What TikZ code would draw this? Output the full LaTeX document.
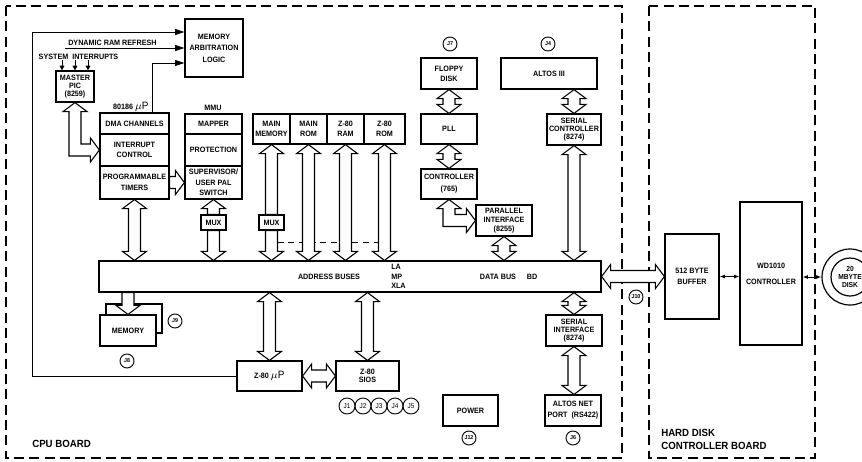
\documentclass[tikz,border=0pt]{standalone}
\usepackage{fontspec}
\setmainfont{Liberation Sans}[FakeStretch=0.93]
\usetikzlibrary{calc,arrows.meta}
\newcommand\ArW{6}
\newcommand\ArH{12}
\newcommand\ArL{9}
% box from corner to corner (pixel coordinates)
\newcommand\BX[7][]{\node[box,#1,minimum width={(#5-#3)*0.75pt},minimum height={(#6-#4)*0.75pt}] (#2) at ({(#3+#5)/2},{(#4+#6)/2}) {#7};}
% vertical hollow double arrow
\newcommand\ArrVV[2]{\coordinate (aT) at (#1); \coordinate (aB) at (#1 |- #2);
 \draw[hol] (aT) -- ($(aT)+(\ArH,\ArL)$) -- ($(aT)+(\ArW,\ArL)$) -- ($(aB)+(\ArW,-\ArL)$) -- ($(aB)+(\ArH,-\ArL)$) -- (aB) -- ($(aB)+(-\ArH,-\ArL)$) -- ($(aB)+(-\ArW,-\ArL)$) -- ($(aT)+(-\ArW,\ArL)$) -- ($(aT)+(-\ArH,\ArL)$) -- cycle;}
% vertical hollow arrow, head at lower end
\newcommand\ArrVD[2]{\coordinate (aT) at (#1); \coordinate (aB) at (#1 |- #2);
 \draw[hol] ($(aT)+(-\ArW,0)$) -- ($(aT)+(\ArW,0)$) -- ($(aB)+(\ArW,-\ArL)$) -- ($(aB)+(\ArH,-\ArL)$) -- (aB) -- ($(aB)+(-\ArH,-\ArL)$) -- ($(aB)+(-\ArW,-\ArL)$) -- cycle;}
% vertical hollow arrow, head at upper end
\newcommand\ArrVU[2]{\coordinate (aT) at (#1); \coordinate (aB) at (#1 |- #2);
 \draw[hol] (aT) -- ($(aT)+(\ArH,\ArL)$) -- ($(aT)+(\ArW,\ArL)$) -- ($(aB)+(\ArW,0)$) -- ($(aB)+(-\ArW,0)$) -- ($(aT)+(-\ArW,\ArL)$) -- ($(aT)+(-\ArH,\ArL)$) -- cycle;}
% horizontal hollow double arrow
\newcommand\ArrHH[2]{\coordinate (aL) at (#1); \coordinate (aR) at (#2 |- #1);
 \draw[hol] (aL) -- ($(aL)+(\ArL,-\ArH)$) -- ($(aL)+(\ArL,-\ArW)$) -- ($(aR)+(-\ArL,-\ArW)$) -- ($(aR)+(-\ArL,-\ArH)$) -- (aR) -- ($(aR)+(-\ArL,\ArH)$) -- ($(aR)+(-\ArL,\ArW)$) -- ($(aL)+(\ArL,\ArW)$) -- ($(aL)+(\ArL,\ArH)$) -- cycle;}
% horizontal hollow arrow, head at right end
\newcommand\ArrHR[2]{\coordinate (aL) at (#1); \coordinate (aR) at (#2 |- #1);
 \draw[hol] ($(aL)+(0,-\ArW)$) -- ($(aR)+(-\ArL,-\ArW)$) -- ($(aR)+(-\ArL,-\ArH)$) -- (aR) -- ($(aR)+(-\ArL,\ArH)$) -- ($(aR)+(-\ArL,\ArW)$) -- ($(aL)+(0,\ArW)$) -- cycle;}
\begin{document}
\begin{tikzpicture}[x=0.75pt,y=-0.75pt,
  every node/.style={font=\fontsize{5.8}{7.5}\selectfont\bfseries},
  box/.style={draw, line width=0.9pt, fill=white, inner sep=0pt, align=center},
  hol/.style={draw, line width=0.8pt, fill=white, line join=miter},
  board/.style={draw, line width=0.9pt, dash pattern=on 7.5pt off 4pt},
  jc/.style={draw, circle, line width=0.7pt, inner sep=0pt, minimum size=10.5pt, font=\fontsize{4.3}{5}\selectfont\bfseries},
  jb/.style={draw, circle, line width=0.7pt, inner sep=0pt, minimum size=12pt, font=\fontsize{5.2}{6}\selectfont},
  sarr/.style={draw, line width=0.75pt, -{Triangle[length=7pt,width=4.5pt]}},
  tarr/.style={draw, line width=0.7pt, -{Triangle[length=3.5pt,width=3.5pt]}},
  tharr/.style={draw, line width=0.7pt, {Latex[length=4pt,width=3pt]}-{Latex[length=4pt,width=3pt]}},
  lsk/.style={font=\fontsize{5.8}{#1}\selectfont\bfseries},
  bigl/.style={font=\fontsize{7.8}{9.4}\selectfont\bfseries, align=left, inner sep=0pt}
]
\useasboundingbox (0,0) rectangle (862,461);
\clip (0,0) rectangle (862,461);
% boards
\draw[board] (6,6) rectangle (622,458);
\draw[board] (649,6) rectangle (815,458);
% boxes
\BX[lsk=8.6]{arb}{185}{19}{243}{77}{MEMORY\\ARBITRATION\\LOGIC}
\BX[lsk=6.2]{pic}{56}{71}{94}{102}{MASTER\\PIC\\(8259)}
\BX{dma}{100}{113}{169}{134}{DMA CHANNELS}
\BX{intr}{100}{134}{169}{166}{INTERRUPT\\CONTROL}
\BX[lsk=8.2]{tim}{100}{166}{169}{199}{PROGRAMMABLE\\TIMERS}
\BX{map}{185}{114}{242}{134}{MAPPER}
\BX{prot}{185}{134}{242}{166}{PROTECTION}
\BX[lsk=7.8]{sup}{185}{166}{242}{199}{SUPERVISOR/\\USER PAL\\SWITCH}
\BX{mux1}{201}{215}{226}{230}{MUX}
\BX{mm}{253}{114}{290}{144}{MAIN\\MEMORY}
\BX{mr}{290}{114}{327}{144}{MAIN\\ROM}
\BX{zr}{327}{114}{364}{144}{Z-80\\RAM}
\BX{zrom}{364}{114}{405}{144}{Z-80\\ROM}
\BX{mux2}{259}{215}{284}{230}{MUX}
\BX{flop}{421}{58}{477}{89}{FLOPPY\\DISK}
\BX{pll}{421}{114}{477}{144}{PLL}
\BX[lsk=9]{ctrl}{421}{169}{477}{199}{CONTROLLER\\(765)}
\BX[lsk=6.8]{par}{476}{205}{532}{236}{PARALLEL\\INTERFACE\\(8255)}
\BX{alt}{501}{58}{597}{89}{ALTOS III}
\BX[lsk=6]{sc}{547}{114}{601}{145}{SERIAL\\CONTROLLER\\(8274)}
\BX{bus}{99}{261}{601}{292}{}
\BX[lsk=6]{si}{546}{315}{602}{346}{SERIAL\\INTERFACE\\(8274)}
\BX[lsk=8.2]{net}{545}{395}{601}{426}{ALTOS NET\\PORT\ \ (RS422)}
\BX{pow}{443}{395}{498}{426}{POWER}
\BX{z80p}{237}{361}{302}{391}{Z-80 {\fontsize{8}{8}\selectfont$\mu\mathrm{P}$}}
\BX[lsk=6]{sio}{336}{361}{399}{391}{Z-80\\SIOS}
\BX{memb}{106}{304}{162}{333}{}
\BX{mem}{100}{315}{156}{346}{MEMORY}
\BX[lsk=8.2]{buf}{665}{234}{719}{319}{512 BYTE\\BUFFER}
\BX[lsk=12]{wd}{740}{202}{802}{345}{WD1010\\CONTROLLER}
% disk
\node[circle, draw, line width=0.9pt, minimum size=42pt] (disko) at (850,277) {};
\node[circle, draw, line width=0.9pt, minimum size=28.5pt, inner sep=0pt, align=center, font=\fontsize{5.4}{6}\selectfont\bfseries] (disk) at (850,277) {20\\MBYTE\\DISK};
% labels
\node (adr) at (329,276.5) {ADDRESS BUSES};
\node[anchor=west, align=left, inner sep=0pt, lsk=7] (lamp) at (391,276.5) {LA\\MP\\XLA};
\node (dbus) at (498,276.5) {DATA BUS};
\node (bd) at (532,276.5) {BD};
\node (l80186) at (131,107) {80186 {\fontsize{8}{8}\selectfont$\mu\mathrm{P}$}};
\node (lmmu) at (213,108) {MMU};
\node (lsi) at (78.5,57) {SYSTEM\ \ INTERRUPTS};
\node[anchor=base west, inner sep=0pt] (ldr) at (68,45.5) {DYNAMIC RAM REFRESH};
\node[bigl, anchor=base west] (cpub) at (32,447) {CPU BOARD};
\node[bigl, anchor=north west] (hdcb) at (661,429) {HARD DISK\\CONTROLLER BOARD};
% connectors
\coordinate (lc) at (32,32);
\draw[sarr] (z80p.west) -| (lc) -- ($(arb.west)+(0,-16)$);
\coordinate (dr) at (65,48);
\draw[sarr] (dr) -- (arb.west);
\draw[sarr] ($(dma.north west)+(53,0)$) |- ($(arb.west)+(0,15)$);
\foreach \dx in {-13,0,13} {\draw[tarr] ($(pic.north)+(\dx,-10)$) -- ($(pic.north)+(\dx,0)$);}
\draw[tharr] (buf.east) -- (buf.east -| wd.west);
\draw[tharr] (wd.east |- disko.west) -- (disko.west);
% dashed link between memory columns
\draw[line width=0.7pt, dash pattern=on 4.5pt off 3.5pt] ($(mux2.south)+(6,12)$) -- ($(zrom.south |- mux2.south)+(-6,12)$);
% hollow arrows
\coordinate (c1) at (pic.south |- intr.west);
\draw[hol] (pic.south) -- ++(12,9) -- ++(-6,0) -- ($(c1)+(6,-6)$) -- ($(intr.west)+(-9,-6)$) -- ($(intr.west)+(-9,-12)$) -- (intr.west) -- ($(intr.west)+(-9,12)$) -- ($(intr.west)+(-9,6)$) -- ($(c1)+(-6,6)$) -- ($(pic.south)+(-6,9)$) -- ($(pic.south)+(-12,9)$) -- cycle;
\coordinate (c2) at (ctrl.south |- par.west);
\draw[hol] (ctrl.south) -- ++(12,9) -- ++(-6,0) -- ($(c2)+(6,-6)$) -- ($(par.west)+(-9,-6)$) -- ($(par.west)+(-9,-12)$) -- (par.west) -- ($(par.west)+(-9,12)$) -- ($(par.west)+(-9,6)$) -- ($(c2)+(-6,6)$) -- ($(ctrl.south)+(-6,9)$) -- ($(ctrl.south)+(-12,9)$) -- cycle;
\ArrHR{tim.east}{sup.west}
\ArrVV{tim.south}{bus.north}
\ArrVU{sup.south}{mux1.north}
\ArrVD{mux1.south}{bus.north}
\ArrVU{mm.south}{mux2.north}
\ArrVD{mux2.south}{bus.north}
\ArrVV{mr.south}{bus.north}
\ArrVV{zr.south}{bus.north}
\ArrVV{zrom.south}{bus.north}
\ArrVV{flop.south}{pll.north}
\ArrVV{pll.south}{ctrl.north}
\ArrVV{par.south}{bus.north}
\coordinate (altb) at (sc.north |- alt.south);
\ArrVV{altb}{sc.north}
\ArrVV{sc.south}{bus.north}
\coordinate (bs1) at (si.north |- bus.south);
\ArrVV{bs1}{si.north}
\ArrVV{si.south}{net.north}
\coordinate (bm) at (mem.north |- bus.south);
\ArrVD{bm}{mem.north}
\coordinate (bz) at (z80p.north |- bus.south);
\ArrVV{bz}{z80p.north}
\coordinate (bs2) at (sio.north |- bus.south);
\ArrVV{bs2}{sio.north}
\ArrHH{z80p.east}{sio.west}
\ArrHH{bus.east}{buf.west}
% connectors J
\node[jc] (j7) at (450,44) {J7};
\node[jc] (j4) at (548,44) {J4};
\node[jc] (j9) at (175,321) {J9};
\node[jc] (j8) at (127,361) {J8};
\node[jc] (j10) at (636,297) {J10};
\node[jc] (j12) at (469,438) {J12};
\node[jc] (j6) at (573,438) {J6};
\node[jb] (j1) at (347,406) {J1};
\node[jb] (j2) at (363,406) {J2};
\node[jb] (j3) at (379,406) {J3};
\node[jb] (j4b) at (395,406) {J4};
\node[jb] (j5) at (411,406) {J5};
\end{tikzpicture}
\end{document}
